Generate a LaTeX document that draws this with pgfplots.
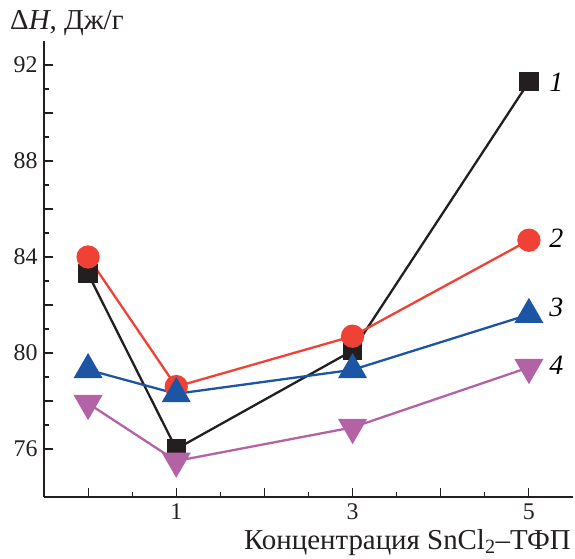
\documentclass[border=0pt]{standalone}
\usepackage{pgfplots}
\pgfplotsset{compat=1.18}
\usepackage{fontspec}
\setmainfont{Liberation Serif}
\definecolor{cblack}{HTML}{231F20}
\definecolor{cred}{HTML}{EF4136}
\definecolor{cblue}{HTML}{1B55A3}
\definecolor{cpurple}{HTML}{B462A6}
\begin{document}
\begin{tikzpicture}[x=1bp,y=1bp]
\useasboundingbox (-44bp,-62bp) rectangle (531bp,497bp);
\begin{axis}[
  at={(0,0)}, anchor=south west,
  scale only axis, width=529bp, height=456bp,
  xmin=-0.5, xmax=5.5, ymin=74, ymax=93,
  axis lines=left, axis line style={-, line width=1.3bp, color=cblack},
  xtick={0,1,2,3,4,5}, xticklabels={,1,,3,,5},
  ytick={76,78,...,92}, yticklabels={76,,80,,84,,88,,92},
  minor x tick num=1, minor y tick num=1,
  tick align=inside,
  major tick length=9bp, minor tick length=5bp,
  tick style={line width=1.1bp, color=cblack},
  /pgf/number format/assume math mode=true,
  tick label style={font=\fontsize{24}{27}\selectfont, color=cblack},
  xticklabel style={yshift=-3bp},
  yticklabel style={xshift=-3bp},
  clip=false,
]
\addplot[cblack, line width=2.3bp, mark=square*, mark size=8.5bp, mark options={fill=cblack, draw=cblack}]
  coordinates {(0,83.3) (1,76.0) (3,80.1) (5,91.3)};
\addplot[cred, line width=2.3bp, mark=*, mark size=10.5bp, mark options={fill=cred, draw=cred}]
  coordinates {(0,84.0) (1,78.6) (3,80.7) (5,84.7)};
\addplot[cblue, line width=2.3bp, mark=triangle*, mark size=14.5bp, mark options={fill=cblue, draw=cblue}]
  coordinates {(0,79.3) (1,78.3) (3,79.3) (5,81.6)};
\addplot[cpurple, line width=2.3bp, mark=triangle*, mark size=14.5bp, mark options={fill=cpurple, draw=cpurple, rotate=180}]
  coordinates {(0,77.9) (1,75.5) (3,76.9) (5,79.4)};
\node[font=\fontsize{28}{30}\selectfont\itshape] at (axis cs:5.31,91.3) {1};
\node[font=\fontsize{28}{30}\selectfont\itshape] at (axis cs:5.31,84.8) {2};
\node[font=\fontsize{28}{30}\selectfont\itshape] at (axis cs:5.31,81.9) {3};
\node[font=\fontsize{28}{30}\selectfont\itshape] at (axis cs:5.31,79.5) {4};
\end{axis}
\node[anchor=base west, inner sep=0pt, font=\fontsize{29}{32}\selectfont, color=cblack] at (-34bp,467bp) {Δ\textit{H}, Дж/г};
\node[anchor=base east, inner sep=0pt, font=\fontsize{29}{32}\selectfont, color=cblack] at (527bp,-52bp) {Концентрация SnCl\textsubscript{2}–ТФП};
\end{tikzpicture}
\end{document}
